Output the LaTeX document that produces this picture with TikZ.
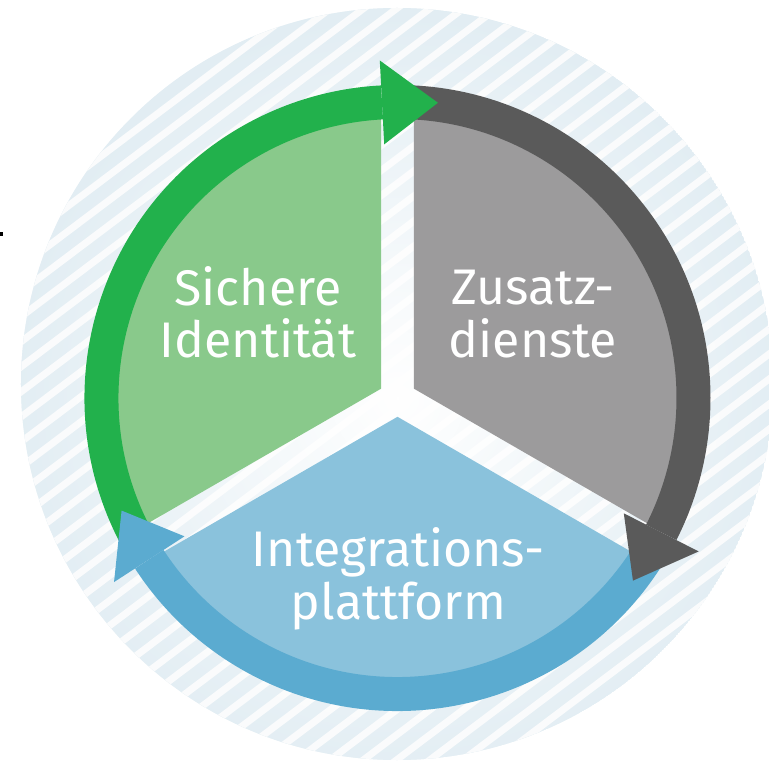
\documentclass[tikz,border=0pt]{standalone}
\usepackage{fontspec}
\setmainfont{Fira Sans}
\usetikzlibrary{calc}
\usetikzlibrary{fadings}

\definecolor{hatchblue}{HTML}{CFE2EC}
\definecolor{hatchwhite}{HTML}{F7F9FA}
\definecolor{greenband}{HTML}{22B14C}
\definecolor{greenpart}{HTML}{89C98B}
\definecolor{grayband}{HTML}{5A5A5A}
\definecolor{graypart}{HTML}{9C9B9C}
\definecolor{blueband}{HTML}{5BABD0}
\definecolor{bluepart}{HTML}{8AC2DC}

\tikzfading[name=hatchfade,inner color=transparent!0,outer color=transparent!100]

\begin{document}
\begin{tikzpicture}[x=1pt,y=1pt,
  band/.style={line width=34pt},
  partname/.style={text=white,align=center,font=\fontsize{50}{52.5}\selectfont}]

\fill[white] (-397.5,-365) rectangle (371.5,398);
\useasboundingbox (-397.5,-365) rectangle (371.5,398);

\coordinate (o) at (0,0);
\coordinate (h) at (-0.5,14);

\begin{scope}
\clip (h) circle[radius=376];
\fill[hatchblue] (h) circle[radius=376];
\begin{scope}[shift={(h)},rotate=37]
\foreach \k in {-20,...,20}
  \draw[hatchwhite,line width=7pt] (-400,\k*20) -- (400,\k*20);
\end{scope}
\fill[white,path fading=hatchfade] (o) circle[radius=640];
\end{scope}

% the three parts
\foreach \b/\col in {150/greenpart,30/graypart,270/bluepart}
  \fill[\col] (\b:18.8) -- ({\b-56.84}:296) arc[start angle={\b-56.84},end angle={\b+56.84},radius=296] -- cycle;

% ring arrows
\foreach \a/\col in {90/greenband,-30/grayband,210/blueband}
  \draw[band,\col] ({\a+120}:296) arc[start angle={\a+120},end angle={\a+3},radius=296];
\foreach \a/\col in {90/greenband,-30/grayband,210/blueband}
  \fill[\col] ({\a+3}:254) -- ({\a+3}:338) -- ({\a-7.8}:298) -- cycle;

\node[partname] (sicher) at (-139.5,85.5) {Sichere\\Identität};
\node[partname] (zusatz) at (135.5,84) {Zusatz-\\dienste};
\node[partname] (integ) at (1,-181) {Integrations-\\plattform};

\fill[black] (-397.5,162) rectangle (-394.5,166);
\end{tikzpicture}
\end{document}
